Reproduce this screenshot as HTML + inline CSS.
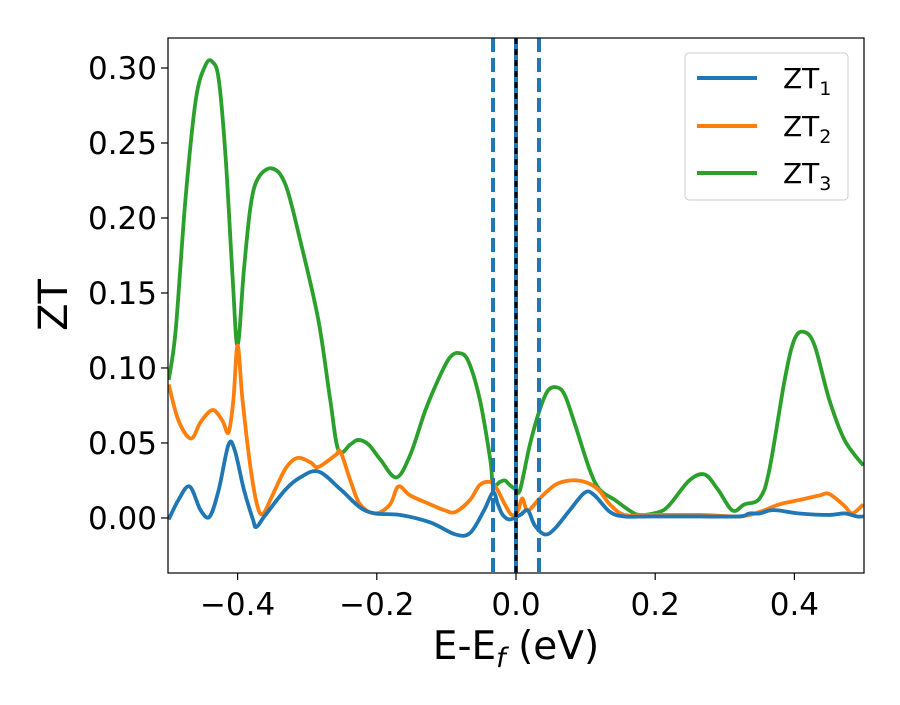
<!DOCTYPE html>
<html><head><meta charset="utf-8"><style>
body{margin:0;background:#fff;}
svg{font-family:"DejaVu Sans","Liberation Sans",sans-serif;}
</style></head><body>
<svg width="900" height="700" xmlns="http://www.w3.org/2000/svg">
<g id="plot"></g>
</svg>
<script>
const xTicks=[-0.4,-0.2,0.0,0.2,0.4];
const xTickLabels=["−0.4","−0.2","0.0","0.2","0.4"];
const yTicks=[0,0.05,0.10,0.15,0.20,0.25,0.30];
const yTickLabels=["0.00","0.05","0.10","0.15","0.20","0.25","0.30"];
const seriesNames=["ZT1","ZT2","ZT3"];
const vlines=[-0.033,0.0,0.033];
const zt1X=[-0.499,-0.485,-0.469,-0.453,-0.440,-0.427,-0.413,-0.404,-0.391,-0.378,-0.373,-0.360,-0.331,-0.310,-0.284,-0.252,-0.224,-0.202,-0.166,-0.123,-0.087,-0.066,-0.046,-0.033,-0.026,-0.019,-0.009,0.006,0.017,0.027,0.042,0.056,0.077,0.099,0.113,0.135,0.156,0.192,0.264,0.321,0.335,0.350,0.364,0.378,0.407,0.450,0.472,0.490,0.499];
const zt1Y=[-0.001,0.012,0.021,0.005,0.001,0.019,0.049,0.045,0.019,-0.001,-0.006,0.002,0.019,0.027,0.031,0.019,0.007,0.003,0.002,-0.003,-0.011,-0.010,0.005,0.017,0.009,0.002,-0.001,0.002,0.005,-0.005,-0.011,-0.007,0.005,0.017,0.015,0.004,0.001,0.001,0.001,0.001,0.003,0.003,0.005,0.005,0.003,0.002,0.003,0.001,0.001];
const zt2X=[-0.499,-0.485,-0.467,-0.453,-0.436,-0.422,-0.413,-0.406,-0.400,-0.393,-0.381,-0.371,-0.363,-0.350,-0.331,-0.314,-0.295,-0.284,-0.259,-0.252,-0.238,-0.224,-0.202,-0.181,-0.169,-0.152,-0.123,-0.102,-0.087,-0.066,-0.052,-0.037,-0.027,-0.016,-0.006,0.003,0.009,0.017,0.034,0.056,0.077,0.099,0.118,0.135,0.156,0.192,0.264,0.321,0.350,0.378,0.407,0.436,0.450,0.472,0.483,0.499];
const zt2Y=[0.089,0.065,0.053,0.064,0.072,0.065,0.057,0.079,0.115,0.079,0.032,0.007,0.003,0.015,0.033,0.040,0.037,0.034,0.042,0.044,0.025,0.009,0.003,0.009,0.021,0.015,0.009,0.005,0.004,0.012,0.022,0.024,0.019,0.009,0.002,0.005,0.013,0.005,0.013,0.022,0.025,0.024,0.019,0.009,0.002,0.002,0.002,0.001,0.004,0.009,0.012,0.015,0.016,0.008,0.003,0.009];
const zt3X=[-0.499,-0.489,-0.475,-0.460,-0.446,-0.436,-0.427,-0.417,-0.407,-0.400,-0.391,-0.381,-0.370,-0.350,-0.331,-0.310,-0.284,-0.267,-0.255,-0.238,-0.227,-0.212,-0.195,-0.172,-0.152,-0.130,-0.109,-0.095,-0.083,-0.069,-0.052,-0.037,-0.033,-0.023,-0.016,-0.009,0.0,0.006,0.020,0.034,0.046,0.059,0.070,0.085,0.106,0.120,0.142,0.163,0.178,0.206,0.221,0.249,0.271,0.290,0.311,0.328,0.350,0.364,0.386,0.400,0.414,0.429,0.450,0.472,0.499];
const zt3Y=[0.092,0.125,0.212,0.279,0.302,0.304,0.292,0.239,0.159,0.115,0.165,0.209,0.227,0.233,0.222,0.185,0.132,0.079,0.045,0.049,0.052,0.049,0.039,0.027,0.042,0.072,0.095,0.107,0.110,0.105,0.079,0.039,0.022,0.024,0.025,0.022,0.019,0.019,0.049,0.072,0.085,0.087,0.082,0.062,0.032,0.019,0.012,0.005,0.002,0.004,0.009,0.025,0.029,0.019,0.005,0.009,0.013,0.032,0.092,0.119,0.124,0.115,0.079,0.052,0.035];

const L=168,R=864,T=38,B=573,xMin=-0.5,xMax=0.5,yMin=-0.0367,yMax=0.32;
const sx=v=>L+(v-xMin)/(xMax-xMin)*(R-L);
const sy=v=>B-(v-yMin)/(yMax-yMin)*(B-T);
const NS="http://www.w3.org/2000/svg";
const g=document.getElementById('plot');
function mk(tag,attrs){const e=document.createElementNS(NS,tag);for(const k in attrs)e.setAttribute(k,attrs[k]);return e;}
const clip=mk('clipPath',{id:'c'});clip.appendChild(mk('rect',{x:L,y:T,width:R-L,height:B-T}));g.appendChild(clip);
function pathFor(xs,ys){const p=xs.map((x,i)=>[sx(x),sy(ys[i])]);let d=`M${p[0][0]},${p[0][1]}`;
for(let i=0;i<p.length-1;i++){const p0=p[Math.max(i-1,0)],p1=p[i],p2=p[i+1],p3=p[Math.min(i+2,p.length-1)];
const c1=[p1[0]+(p2[0]-p0[0])/6,p1[1]+(p2[1]-p0[1])/6],c2=[p2[0]-(p3[0]-p1[0])/6,p2[1]-(p3[1]-p1[1])/6];
d+=`C${c1[0]},${c1[1]} ${c2[0]},${c2[1]} ${p2[0]},${p2[1]}`;}return d;}
const colors=["#1f77b4","#ff7f0e","#2ca02c"];
const data=[[zt1X,zt1Y],[zt2X,zt2Y],[zt3X,zt3Y]];
const lg=mk('g',{'clip-path':'url(#c)'});g.appendChild(lg);
[2,1,0].forEach(i=>{const p=mk('path',{d:pathFor(data[i][0],data[i][1]),fill:'none',stroke:colors[i],'stroke-width':3.8,'stroke-linejoin':'round'});


lg.appendChild(p);});
vlines.forEach((v,i)=>{const ln=mk('line',{x1:sx(v),x2:sx(v),y1:T,y2:B,stroke:'#1f77b4','stroke-width':4});
if(v!==0)ln.setAttribute('stroke-dasharray','14 6');


g.appendChild(ln);});
const fl=mk('line',{x1:sx(0),x2:sx(0),y1:T,y2:B,stroke:'#000','stroke-width':3,'stroke-dasharray':'6 5'});


g.appendChild(fl);
const fr=mk('rect',{x:L,y:T,width:R-L,height:B-T,fill:'none',stroke:'#000','stroke-width':1.2});


g.appendChild(fr);
xTicks.forEach((v,i)=>{const x=sx(v);g.appendChild(mk('line',{x1:x,x2:x,y1:B,y2:B+7,stroke:'#000','stroke-width':1.2}));
const t=mk('text',{x:x,y:B+42,'font-size':31,'text-anchor':'middle'});t.textContent=xTickLabels[i];


g.appendChild(t);});
yTicks.forEach((v,i)=>{const y=sy(v);g.appendChild(mk('line',{x1:L-7,x2:L,y1:y,y2:y,stroke:'#000','stroke-width':1.2}));
const t=mk('text',{x:L-11,y:y+11,'font-size':31,'text-anchor':'end'});t.textContent=yTickLabels[i];


g.appendChild(t);});
</script>
<svg style="position:absolute;left:0;top:0" width="900" height="700" xmlns="http://www.w3.org/2000/svg">
<text x="0" y="0" font-size="40" text-anchor="middle" transform="translate(67,305) rotate(-90)" font-family="DejaVu Sans,sans-serif">ZT</text>
<text x="516" y="659" font-size="39" text-anchor="middle" font-family="DejaVu Sans,sans-serif">E-E<tspan font-size="27" dy="8" font-style="italic">f</tspan><tspan dy="-8"> (eV)</tspan></text>
<g font-family="DejaVu Sans,sans-serif" font-size="28">
<rect x="685" y="53" width="163" height="147" rx="4" fill="#fff" fill-opacity="0.8" stroke="#ccc"/>
<line x1="697" x2="757" y1="78" y2="78" stroke="#1f77b4" stroke-width="4"/>
<text x="783" y="88">ZT<tspan font-size="19" dy="7">1</tspan></text>
<line x1="697" x2="757" y1="126" y2="126" stroke="#ff7f0e" stroke-width="4"/>
<text x="783" y="136">ZT<tspan font-size="19" dy="7">2</tspan></text>
<line x1="697" x2="757" y1="173" y2="173" stroke="#2ca02c" stroke-width="4"/>
<text x="783" y="183">ZT<tspan font-size="19" dy="7">3</tspan></text>
</g>
</svg>
</body></html>
